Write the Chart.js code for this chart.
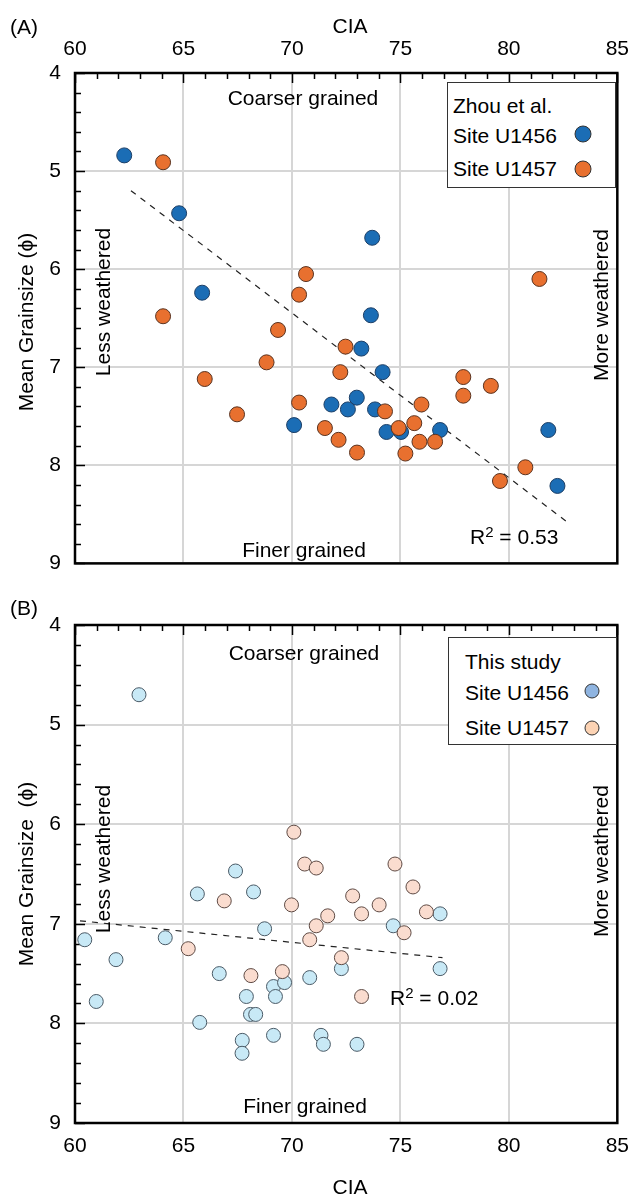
<!DOCTYPE html>
<html><head><meta charset="utf-8">
<script src="https://cdn.jsdelivr.net/npm/chart.js@4"></script>
<style>
html,body{margin:0;padding:0;background:#fff}
body{width:640px;height:1196px;position:relative;overflow:hidden;font-family:"Liberation Sans",Arial,Helvetica,sans-serif;color:#000}
canvas{position:absolute;left:0}
.t{position:absolute;font-size:21px;line-height:1;white-space:nowrap;transform:translate(-50%,-50%)}
.l{position:absolute;font-size:21px;line-height:1;white-space:nowrap;transform:translate(0,-50%)}
.v{transform:translate(-50%,-50%) rotate(-90deg)}
.legend{position:absolute;border:1.5px solid #333;background:#fff;box-sizing:border-box}
.dot{position:absolute;border-radius:50%;border:1px solid #333;box-sizing:border-box;transform:translate(-50%,-50%)}
sup{font-size:15px;vertical-align:7px;line-height:0}
</style></head>
<body>
<canvas id="ca" width="640" height="590" style="top:0"></canvas>
<canvas id="cb" width="640" height="606" style="top:590px"></canvas>

<div class="l" style="left:10px;top:26px">(A)</div>
<div class="t" style="left:350px;top:25px">CIA</div>
<div class="t v" style="left:25px;top:322px">Mean Grainsize (ϕ)</div>
<div class="t" style="left:303px;top:97px">Coarser grained</div>
<div class="t" style="left:304px;top:549px">Finer grained</div>
<div class="t v" style="left:102px;top:302px">Less weathered</div>
<div class="t v" style="left:600px;top:305px">More weathered</div>
<div class="l" style="left:470px;top:536px">R<sup>2</sup> = 0.53</div>
<div class="legend" style="left:447px;top:82px;width:169px;height:106px"></div>
<div class="l" style="left:453px;top:105px">Zhou et al.</div>
<div class="l" style="left:453px;top:135px">Site U1456</div>
<div class="l" style="left:453px;top:168px">Site U1457</div>
<div class="dot" style="left:583px;top:134px;width:17px;height:17px;background:#1b6db5"></div>
<div class="dot" style="left:583px;top:169px;width:17px;height:17px;background:#e8702f"></div>

<div class="l" style="left:10px;top:607px">(B)</div>
<div class="t" style="left:350px;top:1186px">CIA</div>
<div class="t v" style="left:25px;top:874px">Mean Grainsize&nbsp; (ϕ)</div>
<div class="t" style="left:304px;top:652px">Coarser grained</div>
<div class="t" style="left:305px;top:1105px">Finer grained</div>
<div class="t v" style="left:102px;top:859px">Less weathered</div>
<div class="t v" style="left:600px;top:861px">More weathered</div>
<div class="l" style="left:390px;top:997px">R<sup>2</sup> = 0.02</div>
<div class="legend" style="left:448px;top:637px;width:169px;height:108px"></div>
<div class="l" style="left:465px;top:661px">This study</div>
<div class="l" style="left:465px;top:692px">Site U1456</div>
<div class="l" style="left:465px;top:727px">Site U1457</div>
<div class="dot" style="left:592px;top:691px;width:15px;height:15px;background:#8fb4e0"></div>
<div class="dot" style="left:592px;top:728px;width:15px;height:15px;background:#fcd3b4"></div>

<script>
// ---- data ----
const xTickLabels = [60, 65, 70, 75, 80, 85];
const yTickLabels = [4, 5, 6, 7, 8, 9];

// Panel A: Zhou et al.
const zhouU1456CIA = [62.27, 64.8, 65.86, 73.7, 73.64, 73.2, 74.18, 72.99, 72.58, 71.82, 73.83, 74.36, 75.03, 76.83, 81.82, 82.24, 70.1];
const zhouU1456MGS = [4.84, 5.43, 6.24, 5.68, 6.47, 6.81, 7.05, 7.31, 7.43, 7.38, 7.43, 7.66, 7.66, 7.64, 7.64, 8.21, 7.59];
const zhouU1457CIA = [64.06, 64.06, 65.98, 67.47, 68.83, 69.36, 70.33, 70.65, 70.33, 72.47, 72.23, 71.52, 72.15, 73.0, 74.29, 74.92, 75.64, 75.97, 75.23, 75.88, 76.6, 77.9, 77.9, 79.17, 80.76, 79.59, 81.41];
const zhouU1457MGS = [4.91, 6.48, 7.12, 7.48, 6.95, 6.62, 6.26, 6.05, 7.36, 6.79, 7.05, 7.62, 7.74, 7.87, 7.45, 7.62, 7.57, 7.38, 7.88, 7.76, 7.76, 7.10, 7.29, 7.19, 8.02, 8.16, 6.10];
const trendA_CIA = [62.58, 82.76];
const trendA_MGS = [5.20, 8.59];

// Panel B: This study
const studyU1456CIA = [62.95, 60.45, 61.89, 60.98, 64.16, 65.64, 67.4, 68.23, 68.74, 66.65, 67.9, 69.15, 69.24, 69.66, 68.09, 68.33, 65.75, 67.71, 67.7, 69.15, 71.34, 71.45, 73.0, 70.82, 72.28, 74.67, 76.83, 76.83];
const studyU1456MGS = [4.70, 7.16, 7.36, 7.78, 7.14, 6.70, 6.47, 6.68, 7.05, 7.50, 7.73, 7.63, 7.73, 7.59, 7.91, 7.91, 7.99, 8.17, 8.30, 8.12, 8.12, 8.21, 8.21, 7.54, 7.45, 7.02, 6.90, 7.45];
const studyU1457CIA = [66.88, 65.22, 68.11, 69.56, 70.09, 70.59, 71.12, 69.98, 71.65, 71.12, 70.82, 72.28, 72.8, 74.75, 75.58, 73.21, 74.02, 76.2, 75.17, 73.21];
const studyU1457MGS = [6.77, 7.25, 7.52, 7.48, 6.08, 6.40, 6.44, 6.81, 6.92, 7.02, 7.16, 7.34, 6.72, 6.40, 6.63, 6.90, 6.81, 6.88, 7.09, 7.73];
const trendB_CIA = [60.23, 76.94];
const trendB_MGS = [6.97, 7.34];

// ---- helpers ----
const pts = (xs, ys) => xs.map((x, i) => ({x, y: ys[i]}));
const FONT = {family: '"Liberation Sans", Arial, sans-serif', size: 21};

const framePlugin = {
  id: 'frame',
  beforeDatasetsDraw(chart) {
    const {ctx, chartArea: {left, top, right, bottom}, scales: {x, y}} = chart;
    ctx.save();
    ctx.strokeStyle = '#000';
    ctx.lineWidth = 1.5;
    ctx.beginPath();
    const y0 = yTickLabels[0], y1 = yTickLabels[yTickLabels.length - 1];
    for (let k = 0; k <= (y1 - y0) * 5; k++) {
      const v = y0 + k / 5;
      const py = Math.round(y.getPixelForValue(v)) + 0.5;
      const major = k % 5 === 0;
      ctx.moveTo(left, py); ctx.lineTo(left + (major ? 10 : 6), py);
    }
    const x0 = xTickLabels[0], x1 = xTickLabels[xTickLabels.length - 1];
    for (let v = x0; v <= x1; v++) {
      const px = Math.round(x.getPixelForValue(v)) + 0.5;
      const major = (v - x0) % 5 === 0;
      ctx.moveTo(px, top); ctx.lineTo(px, top + (major ? 10 : 6));
    }
    ctx.stroke();
    ctx.lineWidth = 2.5;
    ctx.strokeRect(left, top, right - left, bottom - top);
    ctx.restore();
  }
};

function makeChart(id, xPos, padding, sets, trend, rad) {
  return new Chart(document.getElementById(id), {
    type: 'scatter',
    data: {
      datasets: [
        {data: pts(trend[0], trend[1]), type: 'line', showLine: true, pointRadius: 0,
         borderColor: '#222', borderWidth: 1.2, borderDash: [6, 6], fill: false, order: 3},
        ...sets.map((s, i) => ({data: pts(s[0], s[1]), backgroundColor: s[2], borderColor: s[3],
          borderWidth: 1, pointRadius: rad, pointHoverRadius: rad, order: 2 - i}))
      ]
    },
    options: {
      responsive: false, animation: false, devicePixelRatio: 1,
      layout: {padding},
      plugins: {legend: {display: false}, tooltip: {enabled: false}},
      scales: {
        x: {type: 'linear', position: xPos, min: xTickLabels[0], max: xTickLabels[xTickLabels.length - 1],
            afterFit: s => { s.height = 73; },
            afterBuildTicks: s => { s.ticks = xTickLabels.map(v => ({value: v})); },
            ticks: {font: FONT, color: '#000', padding: 11, maxRotation: 0},
            grid: {color: '#d6d6d6', lineWidth: 2, drawTicks: false},
            border: {display: false}},
        y: {type: 'linear', reverse: true, min: yTickLabels[0], max: yTickLabels[yTickLabels.length - 1],
            afterFit: s => { s.width = 75; },
            afterBuildTicks: s => { s.ticks = yTickLabels.map(v => ({value: v})); },
            ticks: {font: FONT, color: '#000', padding: 14},
            grid: {color: '#d6d6d6', lineWidth: 2, drawTicks: false},
            border: {display: false}}
      }
    },
    plugins: [framePlugin]
  });
}

makeChart('ca', 'top', {left: 0, top: 0, right: 15, bottom: 24},
  [[zhouU1456CIA, zhouU1456MGS, '#1b6db5', '#1d3f66'],
   [zhouU1457CIA, zhouU1457MGS, '#e8702f', '#5a3320']],
  [trendA_CIA, trendA_MGS], 7.5);

makeChart('cb', 'bottom', {left: 0, top: 35, right: 13, bottom: 0},
  [[studyU1456CIA, studyU1456MGS, '#c8e9f6', '#4a5a66'],
   [studyU1457CIA, studyU1457MGS, '#fadccf', '#5e4a44']],
  [trendB_CIA, trendB_MGS], 7);
</script>
</body></html>
